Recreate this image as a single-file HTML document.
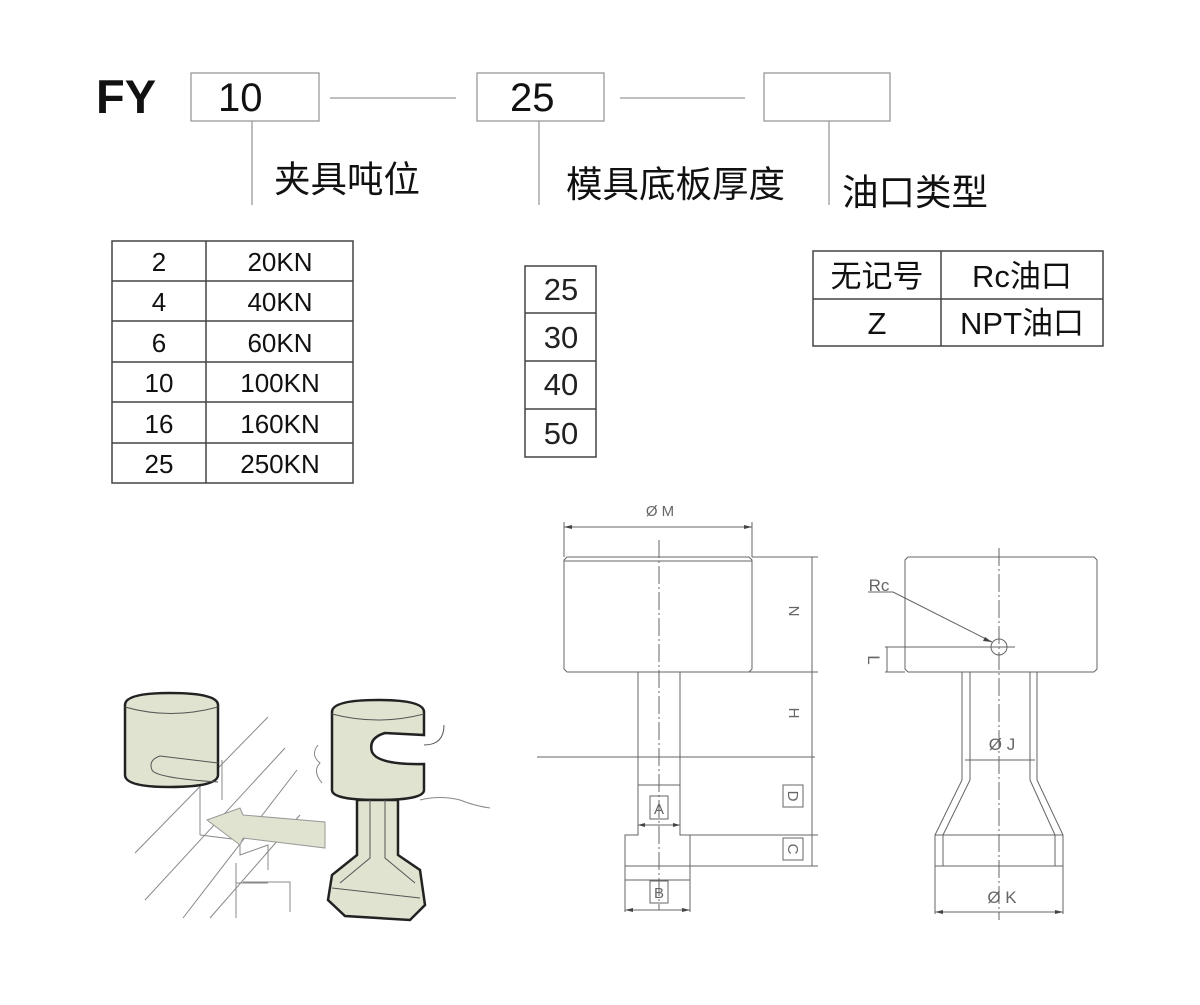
<!DOCTYPE html>
<html><head><meta charset="utf-8"><style>
html,body{margin:0;padding:0;background:#fff;}
svg text{font-family:"Liberation Sans","Noto Sans CJK SC",sans-serif;}
</style></head><body>
<svg width="1200" height="1000" viewBox="0 0 1200 1000" xmlns="http://www.w3.org/2000/svg">
<rect width="1200" height="1000" fill="#fff"/>
<!-- header -->
<text x="96" y="113" font-size="47" font-weight="bold" fill="#111">FY</text>
<g fill="none" stroke="#999" stroke-width="1.3">
<rect x="191" y="73" width="128" height="48"/>
<rect x="477" y="73" width="127" height="48"/>
<rect x="764" y="73" width="126" height="48"/>
<line x1="330" y1="98" x2="456" y2="98"/>
<line x1="620" y1="98" x2="745" y2="98"/>
<line x1="252" y1="121" x2="252" y2="205"/>
<line x1="539" y1="121" x2="539" y2="205"/>
<line x1="829" y1="121" x2="829" y2="205"/>
</g>
<text x="218" y="111" font-size="40" fill="#111">10</text>
<text x="510" y="111" font-size="40" fill="#111">25</text>
<text x="274" y="192" font-size="36.5" fill="#111">夹具吨位</text>
<text x="566" y="197" font-size="36.5" fill="#111">模具底板厚度</text>
<text x="842" y="205" font-size="36.5" fill="#111">油口类型</text>

<!-- table 1 -->
<g stroke="#444" stroke-width="1.5" fill="none">
<rect x="112" y="241" width="241" height="242"/>
<line x1="206" y1="241" x2="206" y2="483"/>
<line x1="112" y1="281" x2="353" y2="281"/>
<line x1="112" y1="321" x2="353" y2="321"/>
<line x1="112" y1="362" x2="353" y2="362"/>
<line x1="112" y1="402" x2="353" y2="402"/>
<line x1="112" y1="443" x2="353" y2="443"/>
</g>
<g font-size="26" fill="#111" text-anchor="middle">
<text x="159" y="271">2</text><text x="280" y="271">20KN</text>
<text x="159" y="311">4</text><text x="280" y="311">40KN</text>
<text x="159" y="352">6</text><text x="280" y="352">60KN</text>
<text x="159" y="392">10</text><text x="280" y="392">100KN</text>
<text x="159" y="433">16</text><text x="280" y="433">160KN</text>
<text x="159" y="473">25</text><text x="280" y="473">250KN</text>
</g>
<!-- table 2 -->
<g stroke="#444" stroke-width="1.5" fill="none">
<rect x="525" y="266" width="71" height="191"/>
<line x1="525" y1="313" x2="596" y2="313"/>
<line x1="525" y1="361" x2="596" y2="361"/>
<line x1="525" y1="409" x2="596" y2="409"/>
</g>
<g font-size="31" fill="#222" text-anchor="middle">
<text x="561" y="300">25</text><text x="561" y="348">30</text>
<text x="561" y="395">40</text><text x="561" y="444">50</text>
</g>
<!-- table 3 -->
<g stroke="#444" stroke-width="1.5" fill="none">
<rect x="813" y="251" width="290" height="95"/>
<line x1="941" y1="251" x2="941" y2="346"/>
<line x1="813" y1="299" x2="1103" y2="299"/>
</g>
<g font-size="31" fill="#111" text-anchor="middle">
<text x="877" y="287">无记号</text><text x="1022" y="287">Rc油口</text>
<text x="877" y="334">Z</text><text x="1022" y="334">NPT油口</text>
</g>

<!-- left technical view -->
<g stroke="#666" stroke-width="1" fill="none">
<path d="M567,557 L749,557 L752,560 L752,669 L749,672 L567,672 L564,669 L564,560 Z"/>
<line x1="564" y1="561" x2="752" y2="561"/>
<line x1="564" y1="527" x2="752" y2="527"/>
<line x1="564" y1="522" x2="564" y2="557"/>
<line x1="752" y1="522" x2="752" y2="557"/>
<line x1="659" y1="540" x2="659" y2="910" stroke-dasharray="18,3,2,3"/>
<path d="M638,672 L638,835 L625,835 L625,880 L690,880 L690,835 L680,835 L680,672"/>
<line x1="638" y1="785" x2="680" y2="785"/>
<line x1="638" y1="825" x2="680" y2="825"/>
<line x1="537" y1="757" x2="815" y2="757"/>
<line x1="752" y1="557" x2="818" y2="557"/>
<line x1="680" y1="672" x2="818" y2="672"/>
<line x1="690" y1="835" x2="818" y2="835"/>
<line x1="690" y1="866" x2="818" y2="866"/>
<line x1="625" y1="866" x2="690" y2="866"/>
<line x1="812" y1="557" x2="812" y2="866"/>
<line x1="625" y1="880" x2="625" y2="912"/>
<line x1="690" y1="880" x2="690" y2="912"/>
<line x1="625" y1="910" x2="690" y2="910"/>
<rect x="650" y="796" width="18" height="23"/>
<rect x="650" y="881" width="18" height="22"/>
<rect x="783" y="785" width="20" height="22"/>
<rect x="783" y="838" width="20" height="22"/>
</g>
<g fill="#444">
<path d="M564,527 l8,-2 v4 z"/><path d="M752,527 l-8,-2 v4 z"/>
<path d="M625,910 l8,-2 v4 z"/><path d="M690,910 l-8,-2 v4 z"/>
<path d="M638,825 l7,-2 v4 z"/><path d="M680,825 l-7,-2 v4 z"/>
</g>
<g font-size="15" fill="#666" text-anchor="middle">
<text x="660" y="516">Ø M</text>
<text x="659" y="814">A</text>
<text x="659" y="898">B</text>
<text transform="translate(789,611) rotate(90)">N</text>
<text transform="translate(789,713) rotate(90)">H</text>
<text transform="translate(788,796) rotate(90)">D</text>
<text transform="translate(788,849) rotate(90)">C</text>
</g>

<!-- right technical view -->
<g stroke="#666" stroke-width="1" fill="none">
<path d="M908,557 L1094,557 L1097,560 L1097,669 L1094,672 L908,672 L905,669 L905,560 Z"/>
<line x1="999" y1="548" x2="999" y2="920" stroke-dasharray="18,3,2,3"/>
<circle cx="999" cy="647" r="8"/>
<line x1="885" y1="647" x2="1015" y2="647"/>
<line x1="885" y1="672" x2="905" y2="672"/>
<line x1="887" y1="647" x2="887" y2="672"/>
<line x1="868" y1="592" x2="893" y2="592"/>
<line x1="893" y1="592" x2="992" y2="642"/>
<path d="M962,672 L962,780 L935,835 L935,866 L1063,866 L1063,835 L1037,780 L1037,672"/>
<path d="M970,672 L970,780 L943,835"/>
<path d="M1030,672 L1030,780 L1055,835"/>
<line x1="935" y1="835" x2="1063" y2="835"/>
<line x1="943" y1="835" x2="943" y2="866"/>
<line x1="1055" y1="835" x2="1055" y2="866"/>
<line x1="965" y1="760" x2="1035" y2="760"/>
<line x1="935" y1="866" x2="935" y2="914"/>
<line x1="1063" y1="866" x2="1063" y2="914"/>
<line x1="935" y1="912" x2="1063" y2="912"/>
</g>
<g fill="#444">
<path d="M935,912 l8,-2 v4 z"/><path d="M1063,912 l-8,-2 v4 z"/>
<path d="M992,642 l-7,-5 l-2,4 z"/>
</g>
<g font-size="17" fill="#666" text-anchor="middle">
<text x="879" y="591">Rc</text>
<text x="1002" y="750">Ø J</text>
<text x="1002" y="903">Ø K</text>
<text transform="translate(868,660) rotate(90)">L</text>
</g>

<!-- illustration -->
<g stroke="#888" stroke-width="1" fill="none">
<line x1="135" y1="853" x2="268" y2="717"/>
<line x1="145" y1="900" x2="285" y2="748"/>
<line x1="183" y1="918" x2="297" y2="770"/>
<line x1="210" y1="918" x2="300" y2="815"/>
<line x1="200" y1="785" x2="200" y2="835"/>
<line x1="222" y1="760" x2="222" y2="800"/>
<path d="M200,835 L240,840 L240,855 L268,845 L268,870"/>
<path d="M236,863 L236,918"/>
<path d="M236,883 L268,883"/>
<path d="M243,882 L290,882 L290,912"/>
<path d="M318,745 q-8,10 2,18 q-8,8 2,20"/>
<path d="M420,800 q20,-5 40,0 q15,6 30,8"/>
</g>
<path d="M207,820 L240,808 L243,815 L325,822 L325,848 L243,838 L240,845 Z" fill="#dfe3d0" stroke="#999"/>
<g stroke="#222" stroke-width="2.5" fill="#dfe3d0">
<path d="M125,705 Q125,693 170,693 Q218,693 218,705 L218,775 Q218,787 170,787 Q125,787 125,775 Z"/>
<path d="M332,712 Q332,700 378,700 Q424,700 424,712 L424,735 L385,733 Q368,738 372,752 Q378,765 424,764 L424,790 Q424,800 378,800 Q332,800 332,790 Z"/>
<path d="M357,800 L357,855 L332,875 L328,900 L345,916 L410,920 L425,905 L420,870 L398,855 L398,800 Z"/>
</g>
<g stroke="#555" stroke-width="1" fill="none">
<path d="M125,707 Q170,720 218,707"/>
<path d="M332,714 Q378,726 424,714"/>
<path d="M218,763 L160,756 Q148,760 152,770 Q156,778 218,782"/>
<path d="M370,800 L370,858 L340,883"/><path d="M385,800 L385,858 L415,883"/>
<path d="M332,888 L420,898"/>
<path d="M424,745 q20,0 20,-20"/>
</g>
</svg>
</body></html>
